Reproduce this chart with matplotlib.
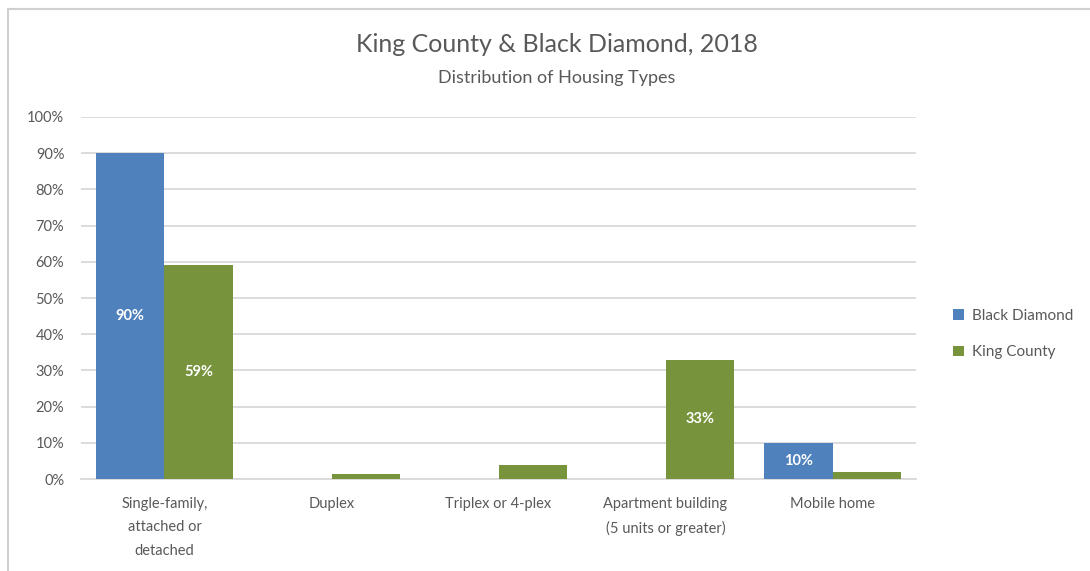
import matplotlib
matplotlib.use("Agg")
import matplotlib.pyplot as plt
import numpy as np
from matplotlib.patches import Rectangle

categories = ["Single-family,\nattached or\ndetached", "Duplex", "Triplex or 4-plex",
              "Apartment building\n(5 units or greater)", "Mobile home"]
black_diamond = [90, 0, 0, 0, 10]
king_county = [59, 1.5, 3.8, 33, 2.0]
yticks = [0, 10, 20, 30, 40, 50, 60, 70, 80, 90, 100]
labels_bd = {0: "90%", 4: "10%"}
labels_kc = {0: "59%", 3: "33%"}

BLUE = "#4F81BD"
GREEN = "#77933C"
TEXT = "#595959"
GRID = "#D9D9D9"

plt.rcParams["font.family"] = ["Lato", "DejaVu Sans"]

fig = plt.figure(figsize=(10.9, 5.71), dpi=100)
ax = fig.add_axes([0.0743, 0.1611, 0.7661, 0.634])

x = np.arange(len(categories))
w = 0.41
b1 = ax.bar(x - w / 2, black_diamond, w, color=BLUE, label="Black Diamond", zorder=3)
b2 = ax.bar(x + w / 2, king_county, w, color=GREEN, label="King County", zorder=3)

for i, t in labels_bd.items():
    ax.text(x[i] - w / 2, black_diamond[i] / 2, t, ha="center", va="center",
            color="white", fontsize=10.5, fontweight="bold", zorder=4)
for i, t in labels_kc.items():
    ax.text(x[i] + w / 2, king_county[i] / 2, t, ha="center", va="center",
            color="white", fontsize=10.5, fontweight="bold", zorder=4)

ax.set_xlim(-0.5, len(categories) - 0.5)
ax.set_ylim(0, 100)
ax.set_yticks(yticks)
ax.set_yticklabels([f"{v}%" for v in yticks], color=TEXT, fontsize=10.5)
ax.set_xticks(x)
ax.set_xticklabels(categories, color=TEXT, fontsize=10.5, linespacing=1.85, va="top")
ax.tick_params(axis="both", length=0)
ax.tick_params(axis="x", pad=13)
ax.tick_params(axis="y", pad=12)
ax.grid(axis="y", color=GRID, linewidth=1.3, zorder=0)
for s in ["top", "right", "left"]:
    ax.spines[s].set_visible(False)
ax.spines["bottom"].set_color(GRID)
ax.spines["bottom"].set_linewidth(1.3)

fig.text(0.511, 0.922, "King County & Black Diamond, 2018", ha="center", va="center",
         fontsize=18, color=TEXT)
fig.text(0.511, 0.863, "Distribution of Housing Types", ha="center", va="center",
         fontsize=13, color=TEXT)

leg = fig.legend(handles=[b1, b2], loc="center left", bbox_to_anchor=(0.862, 0.415),
                 frameon=False, fontsize=11, handlelength=0.7, handleheight=0.7,
                 handletextpad=0.5, labelspacing=1.5)
for t in leg.get_texts():
    t.set_color(TEXT)

fig.patches.append(Rectangle((0.0075, -0.01), 1.0, 0.995, transform=fig.transFigure,
                             fill=False, edgecolor="#D0D0D0", linewidth=1.5))

fig.savefig("out.png", dpi=100)
